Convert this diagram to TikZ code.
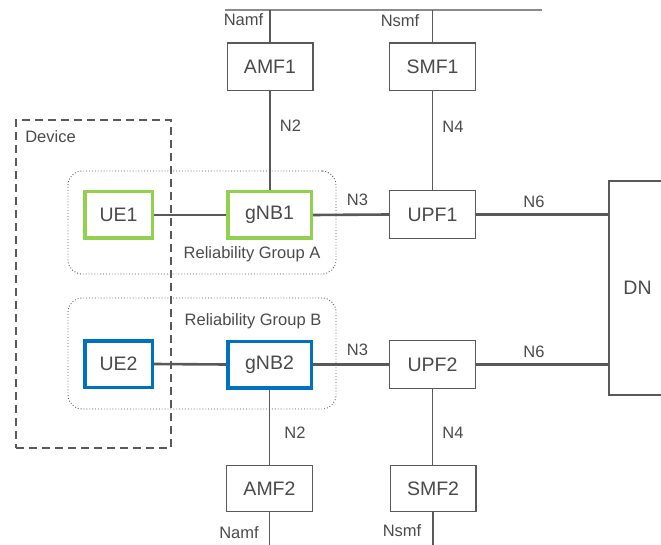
\documentclass[tikz,border=0pt]{standalone}
\usepackage{fontspec}
\setmainfont{Liberation Sans}
\usepackage{xcolor}
\usetikzlibrary{positioning,backgrounds}
\definecolor{linegray}{HTML}{595959}
\definecolor{txtgray}{HTML}{4A4A4A}
\definecolor{relgreen}{HTML}{92D050}
\definecolor{relblue}{HTML}{0070C0}
\tikzset{
  nf/.style={rectangle, draw=linegray, line width=1.3pt, fill=white, text=txtgray,
    minimum width=85.7pt, minimum height=47.7pt, inner sep=0pt,
    font=\fontsize{19.5}{22}\selectfont},
  uegreen/.style={nf, draw=relgreen, line width=3.5pt, minimum height=46.5pt},
  ueblue/.style={nf, draw=relblue, line width=3.5pt, minimum height=46.5pt},
  grp/.style={rectangle, rounded corners=14pt, draw=linegray, dotted, line width=0.9pt},
  dev/.style={rectangle, draw=linegray, line width=2.4pt, dash pattern=on 8pt off 5pt},
  lbl/.style={text=txtgray, inner sep=0pt, font=\fontsize{16.5}{19}\selectfont},
  ifc/.style={draw=linegray, line width=1.3pt},
  usr/.style={draw=linegray, line width=2.6pt},
}
\begin{document}
\begin{tikzpicture}[x=1pt, y=-1pt]
  \useasboundingbox (0,0) rectangle (661,545);
  % ── service bus and bottom edge ───────────────────────────────────
  \coordinate (bus west) at (225,10);
  \coordinate (bus east) at (542,10);
  \coordinate (bottom) at (0,545);
  \draw[ifc, draw=linegray!70] (bus west) -- (bus east);
  % ── upper slice ───────────────────────────────────────────────────
  \node[nf] (amf1) at (270,67) {AMF1};
  \node[nf] (smf1) at (432.5,67) {SMF1};
  \node[uegreen, minimum width=67.5pt] (ue1) at (118.5,215) {UE1};
  \node[uegreen, minimum width=83.5pt] (gnb1) at (269.5,215) {gNB1};
  \node[nf] (upf1) at (432.5,214.5) {UPF1};
  % ── lower slice ───────────────────────────────────────────────────
  \node[ueblue, minimum width=67.5pt] (ue2) at (118.5,364) {UE2};
  \node[ueblue, minimum width=83.5pt] (gnb2) at (269.5,364.5) {gNB2};
  \node[nf] (upf2) at (432.5,364.5) {UPF2};
  \node[nf, minimum height=45.7pt] (amf2) at (269.5,488.5) {AMF2};
  \node[nf, minimum height=45.7pt] (smf2) at (433,488.5) {SMF2};
  % ── data network, cut by the right edge ───────────────────────────
  \node[nf, minimum width=57pt, minimum height=214pt, text=txtgray] (dn) at (637.5,288) {DN};
  % ── groups and device (behind) ────────────────────────────────────
  \begin{scope}[on background layer]
    \node[grp, minimum width=268pt, minimum height=103pt] (grpA) at (202,222.5) {};
    \node[grp, minimum width=268pt, minimum height=111pt] (grpB) at (202,353.5) {};
  \end{scope}
  \node[dev, minimum width=155pt, minimum height=328pt] (device) at (93.5,284) {};
  \node[lbl] (devlbl) at (50.5,137) {Device};
  \node[lbl] (grpAlbl) at (252,254) {Reliability Group A};
  \node[lbl] (grpBlbl) at (253,321) {Reliability Group B};
  % ── interfaces ────────────────────────────────────────────────────
  \draw[ifc] (amf1.north) -- (amf1.north |- bus west);
  \draw[ifc] (smf1.north) -- (smf1.north |- bus west);
  \draw[ifc] (amf1.south) -- (gnb1.north -| amf1.south);
  \draw[ifc] (smf1.south) -- (upf1.north);
  \draw[ifc] (gnb2.south) -- (amf2.north -| gnb2.south);
  \draw[ifc] (upf2.south) -- (smf2.north -| upf2.south);
  \draw[ifc] (amf2.south) -- (amf2.south |- bottom);
  \draw[ifc] (smf2.south) -- (smf2.south |- bottom);
  \draw[usr] (ue1.east) -- (gnb1.west);
  \draw[usr] (gnb1.east) -- (upf1.west);
  \draw[usr] (upf1.east) -- (upf1.east -| dn.west);
  \draw[usr] (ue2.east) -- (gnb2.west);
  \draw[usr] (gnb2.east) -- (upf2.west);
  \draw[usr] (upf2.east) -- (upf2.east -| dn.west);
  % ── interface labels ──────────────────────────────────────────────
  \node[lbl] (namf1) at (243.5,20) {Namf};
  \node[lbl] (nsmf1) at (400,21) {Nsmf};
  \node[lbl] (n2a) at (290.5,126) {N2};
  \node[lbl] (n4a) at (453,127) {N4};
  \node[lbl] (n3a) at (357.5,200) {N3};
  \node[lbl] (n6a) at (534,202) {N6};
  \node[lbl] (n3b) at (357.5,350) {N3};
  \node[lbl] (n6b) at (534,352) {N6};
  \node[lbl] (n2b) at (295,433) {N2};
  \node[lbl] (n4b) at (453,433) {N4};
  \node[lbl] (namf2) at (239,533) {Namf};
  \node[lbl] (nsmf2) at (402,531) {Nsmf};
\end{tikzpicture}
\end{document}
